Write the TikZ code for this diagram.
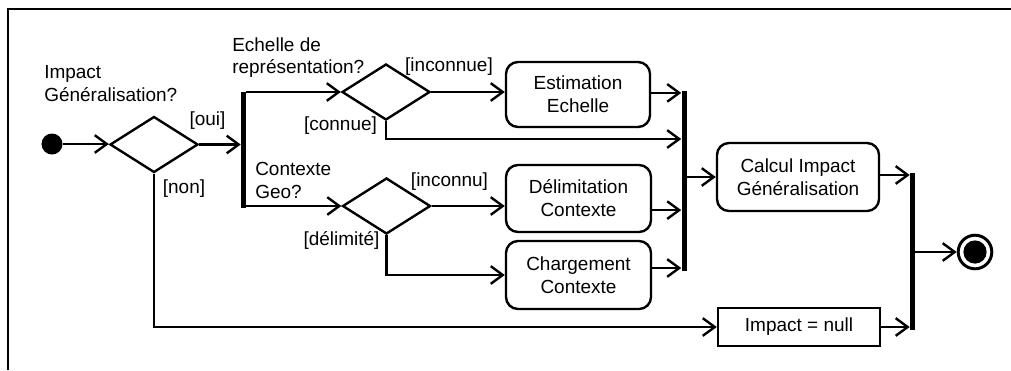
\documentclass[tikz,border=0pt]{standalone}
\usepackage{fontspec}
\setmainfont{Liberation Sans}
\usetikzlibrary{arrows.meta,shapes.geometric}
\begin{document}
\begin{tikzpicture}[x=0.025cm,y=-0.025cm,
  every node/.style={font=\fontsize{13.5pt}{16.3pt}\selectfont},
  ln/.style={line width=1.7pt},
  arr/.style={ln,-{Straight Barb[length=0.3cm,width=0.44cm]}},
  dec/.style={diamond,draw,ln,inner sep=0pt,minimum width=2.2cm,minimum height=1.4cm},
  act/.style={draw,ln,rounded corners=0.3cm,align=center,inner sep=0pt},
  bar/.style={fill=black,inner sep=0pt,minimum width=0.125cm},
  lbl/.style={inner sep=0pt},
  txt/.style={inner sep=0pt,anchor=north west,align=left}]
\useasboundingbox (0,0) rectangle (1011,370);
\fill[white] (0,0) rectangle (1011,370);
% frame
\draw[line width=1.6pt] (8,370) -- (8,9) -- (1011,9);
% nodes
\node[circle,fill=black,inner sep=0pt,minimum size=0.525cm] (init) at (52,144) {};
\node[dec] (d1) at (154,144.5) {};
\node[bar,minimum height=2.9cm] (fork) at (243.5,150) {};
\node[dec] (d2) at (386,92) {};
\node[dec] (d3) at (386.5,206) {};
\node[act,minimum width=3.6cm,minimum height=1.625cm] (est) at (578,94.5) {Estimation\\Echelle};
\node[act,minimum width=3.625cm,minimum height=1.675cm] (del) at (578.5,198.5) {Délimitation\\Contexte};
\node[act,minimum width=3.625cm,minimum height=1.7cm] (chg) at (578.5,275) {Chargement\\Contexte};
\node[bar,minimum height=4.5cm] (join1) at (684,181) {};
\node[act,minimum width=4.05cm,minimum height=1.7cm] (calc) at (798,177) {Calcul Impact\\Généralisation};
\node[draw,ln,inner sep=0pt,minimum width=4.05cm,minimum height=0.95cm] (null) at (799,327) {Impact = null};
\node[bar,minimum height=3.925cm] (join2) at (912.5,251.5) {};
\node[circle,draw,line width=2.1pt,inner sep=0pt,minimum size=0.84cm] (final) at (975,252) {};
\fill (final.center) circle[radius=0.29cm];
% connectors
\draw[arr] (init.east) -- (init.east -| d1.west);
\draw[arr] (d1.east) -- (d1.east -| fork.west);
\draw[arr] (fork.east |- d2.west) -- (d2.west);
\draw[arr] (fork.east |- d3.west) -- (d3.west);
\draw[arr] (d2.east) -- (d2.east -| est.west);
\draw[arr] (d3.east) -- (d3.east -| del.west);
\coordinate (cn) at (684,139);
\draw[arr] (d2.south) |- (cn -| join1.west);
\draw[arr] (d3.south) |- (chg.west);
\draw[arr] ([yshift=0.04cm]est.east) coordinate (e1) -- (e1 -| join1.west);
\draw[arr] ([yshift=-0.29cm]del.east) coordinate (e2) -- (e2 -| join1.west);
\draw[arr] ([yshift=0.175cm]chg.east) coordinate (e3) -- (e3 -| join1.west);
\draw[arr] (calc.west -| join1.east) -- (calc.west);
\draw[arr] ([yshift=0.05cm]calc.east) coordinate (e4) -- (e4 -| join2.west);
\draw[arr] (d1.south) |- (null.west);
\draw[arr] (null.east) -- (null.east -| join2.west);
\draw[arr] (final.west -| join2.east) -- (final.west);
% labels
\node[lbl] (loui) at (207.5,121) {[oui]};
\node[lbl] (lnon) at (184,189) {[non]};
\node[lbl] (linconnue) at (449,66.5) {[inconnue]};
\node[lbl] (lconnue) at (340.5,125.5) {[connue]};
\node[lbl] (linconnu) at (449.5,181.5) {[inconnu]};
\node[lbl] (ldelim) at (341.5,240.5) {[délimité]};
\node[txt] (q1) at (44,65) {Impact\\Généralisation?};
\node[txt] (q2) at (232,37) {Echelle de\\représentation?};
\node[txt] (q3) at (255,162) {Contexte\\Geo?};
\end{tikzpicture}
\end{document}
